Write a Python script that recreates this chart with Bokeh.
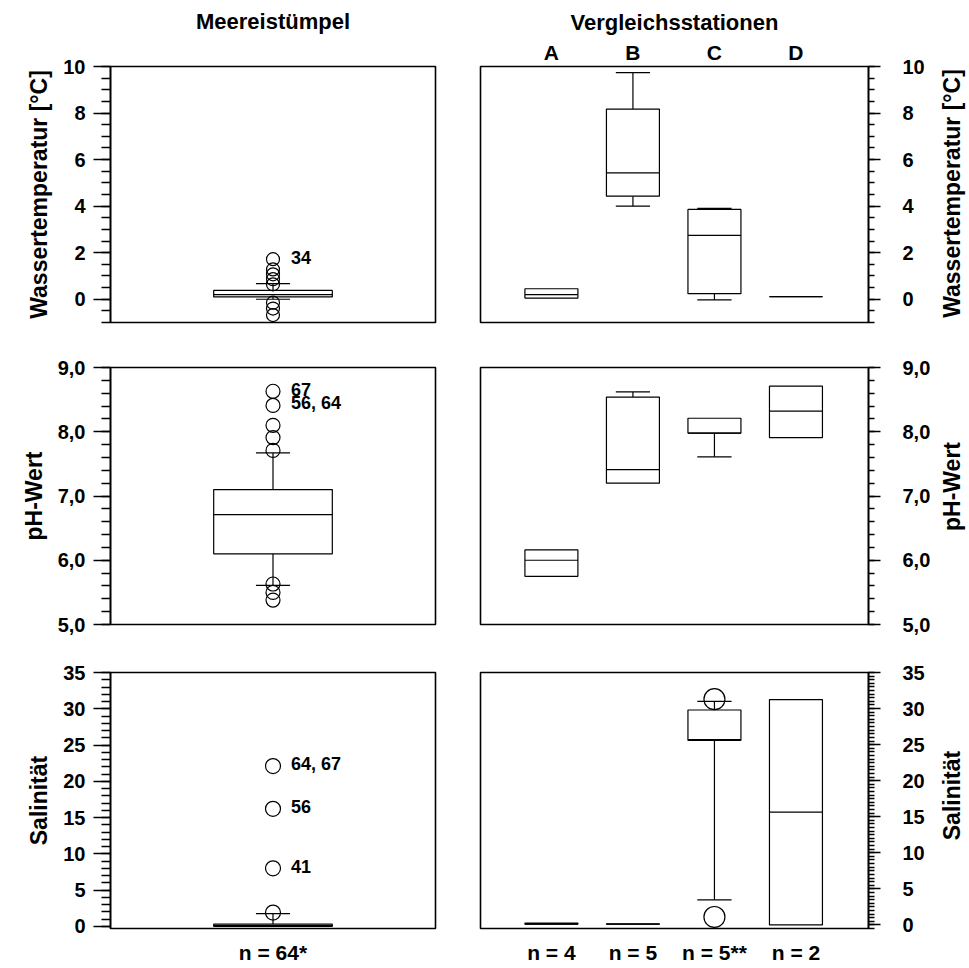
import math
from bokeh.plotting import figure
from bokeh.layouts import column, row
from bokeh.models import Range1d, SingleIntervalTicker, FixedTicker, CustomJSTickFormatter
from bokeh.embed import file_html
from bokeh.resources import INLINE
from bokeh.core.properties import value

FONT = "Liberation Sans"
FONT_V = value(FONT)

# ---------------- data ----------------
col_titles = ["Meereistümpel", "Vergleichsstationen"]
row_labels = ["Wassertemperatur [°C]", "pH-Wert", "Salinität"]

pond_x = [1]
pond_n = ["n = 64*"]
station_x = [1, 2, 3, 4]
stations = ["A", "B", "C", "D"]
station_n = ["n = 4", "n = 5", "n = 5**", "n = 2"]

# Wassertemperatur, Meereistümpel (one box)
temp_pond_lo = [0.0]
temp_pond_q1 = [0.10]
temp_pond_med = [0.20]
temp_pond_q3 = [0.38]
temp_pond_hi = [0.67]
temp_pond_out = [1.72, 1.28, 1.07, 0.86, 0.64, -0.15, -0.40, -0.68]
temp_pond_lab_y = [1.72]
temp_pond_lab = ["34"]

# Wassertemperatur, Vergleichsstationen A-D
temp_st_lo = [None, 4.00, -0.03, None]
temp_st_q1 = [0.05, 4.43, 0.24, 0.11]
temp_st_med = [0.20, 5.43, 2.74, 0.11]
temp_st_q3 = [0.45, 8.17, 3.86, 0.11]
temp_st_hi = [None, 9.74, 3.90, None]

# pH-Wert, Meereistümpel
ph_pond_lo = [5.61]
ph_pond_q1 = [6.10]
ph_pond_med = [6.71]
ph_pond_q3 = [7.10]
ph_pond_hi = [7.67]
ph_pond_out = [8.63, 8.41, 8.10, 7.91, 7.71, 5.63, 5.50, 5.38]
ph_pond_lab_y = [8.63, 8.41]
ph_pond_lab = ["67", "56, 64"]

# pH-Wert, Vergleichsstationen
ph_st_lo = [None, None, 7.61, None]
ph_st_q1 = [5.75, 7.20, 7.98, 7.91]
ph_st_med = [6.00, 7.41, 7.98, 8.32]
ph_st_q3 = [6.16, 8.54, 8.21, 8.71]
ph_st_hi = [None, 8.62, None, None]

# Salinität, Meereistümpel
sal_pond_lo = [0.0]
sal_pond_q1 = [0.0]
sal_pond_med = [0.10]
sal_pond_q3 = [0.30]
sal_pond_hi = [1.75]
sal_pond_out = [22.1, 16.2, 8.0, 1.9]
sal_pond_lab_y = [22.1, 16.2, 8.0]
sal_pond_lab = ["64, 67", "56", "41"]

# Salinität, Vergleichsstationen
sal_st_lo = [None, None, 3.47, None]
sal_st_q1 = [0.10, 0.10, 25.6, 0.0]
sal_st_med = [0.10, 0.10, 25.7, 15.65]
sal_st_q3 = [0.25, 0.15, 29.8, 31.25]
sal_st_hi = [None, None, 31.0, None]
sal_st_out_x = [3, 3]
sal_st_out = [31.3, 1.1]


# ---------------- helpers ----------------
def make_fig(w, h, yr, xr, side, bl, br, bt, bb, xloc=None):
    p = figure(width=w, height=h, x_range=xr, y_range=yr, output_backend="svg",
               toolbar_location=None, y_axis_location=side, x_axis_location=xloc,
               min_border_left=bl, min_border_right=br, min_border_top=bt,
               min_border_bottom=bb)
    p.xgrid.visible = False
    p.ygrid.visible = False
    p.outline_line_color = "black"
    p.outline_line_width = 1.6
    p.background_fill_color = "white"
    p.border_fill_color = "white"
    ax = p.yaxis[0]
    ax.axis_line_width = 1.6
    ax.axis_line_color = "black"
    ax.major_tick_line_color = "black"
    ax.minor_tick_line_color = "black"
    ax.major_tick_in = 0
    ax.minor_tick_in = 0
    if side == "left":
        ax.major_tick_out = 17
        ax.minor_tick_out = 9
        ax.major_label_standoff = 8
    else:
        ax.major_tick_out = 12
        ax.minor_tick_out = 6
        ax.major_label_standoff = 22
    ax.major_tick_line_width = 1.3
    ax.minor_tick_line_width = 1.3
    ax.major_label_text_font = FONT
    ax.major_label_text_font_style = "bold"
    ax.major_label_text_font_size = "20px"
    ax.major_label_text_color = "black"
    ax.axis_label_text_font = FONT
    ax.axis_label_text_font_style = "bold"
    ax.axis_label_text_font_size = "23px"
    ax.axis_label_text_color = "black"
    ax.axis_label_standoff = 8
    return p


def side_title(text, h, frame_top, frame_bottom, y_px):
    # narrow strip right of a panel carrying its y title, reading bottom-to-top;
    # its frame lines up with the neighbouring panel, so y is given in page pixels
    q = figure(width=36, height=h, x_range=Range1d(0, 1),
               y_range=Range1d(frame_bottom, frame_top),
               output_backend="svg", toolbar_location=None, x_axis_location=None,
               y_axis_location=None, min_border_left=0, min_border_right=0,
               min_border_top=0, min_border_bottom=0)
    q.xgrid.visible = False
    q.ygrid.visible = False
    q.outline_line_color = None
    q.background_fill_color = "white"
    q.border_fill_color = "white"
    q.text(x=[0.5], y=[y_px], text=[text], angle=math.pi / 2, text_align="center",
           text_baseline="middle", text_font=FONT_V, text_font_style="bold",
           text_font_size="23px", text_color="black")
    return q


def style_xaxis(p, ticks, labels, standoff):
    ax = p.xaxis[0]
    ax.ticker = FixedTicker(ticks=ticks)
    ax.major_label_overrides = {t: lab for t, lab in zip(ticks, labels)}
    ax.axis_line_color = None
    ax.major_tick_line_color = None
    ax.minor_tick_line_color = None
    ax.major_label_standoff = standoff
    ax.major_label_text_font = FONT
    ax.major_label_text_font_style = "bold"
    ax.major_label_text_font_size = "21px"
    ax.major_label_text_color = "black"
    ax.axis_label_text_font = FONT
    ax.axis_label_text_font_style = "bold"
    ax.axis_label_text_font_size = "22px"
    ax.axis_label_text_color = "black"


def boxes(p, xs, lo, q1, med, q3, hi, bw, cw):
    wx, wy0, wy1, cx0, cx1, cy = [], [], [], [], [], []
    for x, l, a, b, h in zip(xs, lo, q1, q3, hi):
        if h is not None:
            wx.append(x); wy0.append(b); wy1.append(h)
            cx0.append(x - cw / 2); cx1.append(x + cw / 2); cy.append(h)
        if l is not None:
            wx.append(x); wy0.append(a); wy1.append(l)
            cx0.append(x - cw / 2); cx1.append(x + cw / 2); cy.append(l)
    if wx:
        p.segment(x0=wx, y0=wy0, x1=wx, y1=wy1, line_color="black", line_width=1.2)
        p.segment(x0=cx0, y0=cy, x1=cx1, y1=cy, line_color="black", line_width=1.2)
    p.quad(left=[x - bw / 2 for x in xs], right=[x + bw / 2 for x in xs],
           bottom=q1, top=q3, fill_color="white", line_color="black", line_width=1.2)
    p.segment(x0=[x - bw / 2 for x in xs], y0=med, x1=[x + bw / 2 for x in xs], y1=med,
              line_color="black", line_width=1.2)


def outliers(p, xs, ys, size):
    p.scatter(x=xs, y=ys, marker="circle", size=size, fill_alpha=0,
              line_color="black", line_width=1.2)


def out_labels(p, ys, texts):
    p.text(x=[1] * len(ys), y=ys, text=texts, x_offset=18, y_offset=-2,
           text_align="left", text_baseline="middle", text_font=FONT_V,
           text_font_style="bold", text_font_size="18px", text_color="black")


LW, RW, SW = 458, 475, 36
H1, H2, H3 = 345, 305, 318
pond_xr = (0, 2)
st_xr = (0.13, 4.89)
pond_bw, pond_cw = 0.73, 0.21
st_bw, st_cw = 0.65, 0.42
temp_yr = (-1, 10)
ph_yr = (5, 9)
sal_pond_yr = (-0.3, 35)
sal_st_yr = (-0.5, 35)

# ---- row 1: Wassertemperatur ----
p1 = make_fig(LW, H1, Range1d(*temp_yr), Range1d(*pond_xr), "left", 110, 23, 66, 23, xloc="above")
style_xaxis(p1, [], [], 0)
p1.xaxis[0].axis_label = col_titles[0]
p1.xaxis[0].axis_label_standoff = 33
p1.yaxis[0].ticker = SingleIntervalTicker(interval=2, num_minor_ticks=4)
p1.yaxis[0].axis_label = row_labels[0]
boxes(p1, pond_x, temp_pond_lo, temp_pond_q1, temp_pond_med, temp_pond_q3, temp_pond_hi, pond_bw, pond_cw)
outliers(p1, [1] * len(temp_pond_out), temp_pond_out, 13)
out_labels(p1, temp_pond_lab_y, temp_pond_lab)

p2 = make_fig(RW, H1, Range1d(*temp_yr), Range1d(*st_xr), "right", 22, 65, 66, 23, xloc="above")
style_xaxis(p2, station_x, stations, -3)
p2.xaxis[0].axis_label = col_titles[1]
p2.xaxis[0].axis_label_standoff = 3
p2.yaxis[0].ticker = SingleIntervalTicker(interval=2, num_minor_ticks=4)
boxes(p2, station_x, temp_st_lo, temp_st_q1, temp_st_med, temp_st_q3, temp_st_hi, st_bw, st_cw)
s2 = side_title(row_labels[0], H1, 66, 322, 193)

# ---- row 2: pH ----
ph_fmt = "return tick.toFixed(1).replace('.', ',');"
p3 = make_fig(LW, H2, Range1d(*ph_yr), Range1d(*pond_xr), "left", 110, 23, 22, 26, xloc=None)
p3.yaxis[0].ticker = SingleIntervalTicker(interval=1, num_minor_ticks=5)
p3.yaxis[0].formatter = CustomJSTickFormatter(code=ph_fmt)
p3.yaxis[0].axis_label = row_labels[1]
boxes(p3, pond_x, ph_pond_lo, ph_pond_q1, ph_pond_med, ph_pond_q3, ph_pond_hi, pond_bw, pond_cw)
outliers(p3, [1] * len(ph_pond_out), ph_pond_out, 14)
out_labels(p3, ph_pond_lab_y, ph_pond_lab)

p4 = make_fig(RW, H2, Range1d(*ph_yr), Range1d(*st_xr), "right", 22, 65, 22, 26, xloc=None)
p4.yaxis[0].ticker = SingleIntervalTicker(interval=1, num_minor_ticks=5)
p4.yaxis[0].formatter = CustomJSTickFormatter(code=ph_fmt)
boxes(p4, station_x, ph_st_lo, ph_st_q1, ph_st_med, ph_st_q3, ph_st_hi, st_bw, st_cw)
s4 = side_title(row_labels[1], H2, 367, 624, 486)

# ---- row 3: Salinität ----
p5 = make_fig(LW, H3, Range1d(*sal_pond_yr), Range1d(*pond_xr), "left", 110, 23, 22, 40, xloc="below")
p5.yaxis[0].ticker = SingleIntervalTicker(interval=5, num_minor_ticks=5)
p5.yaxis[0].axis_label = row_labels[2]
style_xaxis(p5, pond_x, pond_n, 6)
boxes(p5, pond_x, sal_pond_lo, sal_pond_q1, sal_pond_med, sal_pond_q3, sal_pond_hi, pond_bw, pond_cw)
outliers(p5, [1] * len(sal_pond_out), sal_pond_out, 15)
out_labels(p5, sal_pond_lab_y, sal_pond_lab)

p6 = make_fig(RW, H3, Range1d(*sal_st_yr), Range1d(*st_xr), "right", 22, 65, 22, 40, xloc="below")
p6.yaxis[0].ticker = SingleIntervalTicker(interval=5, num_minor_ticks=10)
style_xaxis(p6, station_x, station_n, 6)
boxes(p6, station_x, sal_st_lo, sal_st_q1, sal_st_med, sal_st_q3, sal_st_hi, st_bw, st_cw)
outliers(p6, sal_st_out_x, sal_st_out, 21)
s6 = side_title(row_labels[2], H3, 672, 928, 795)

layout = column(row(p1, p2, s2), row(p3, p4, s4), row(p5, p6, s6))
open("out.html", "w").write(file_html(layout, INLINE))
